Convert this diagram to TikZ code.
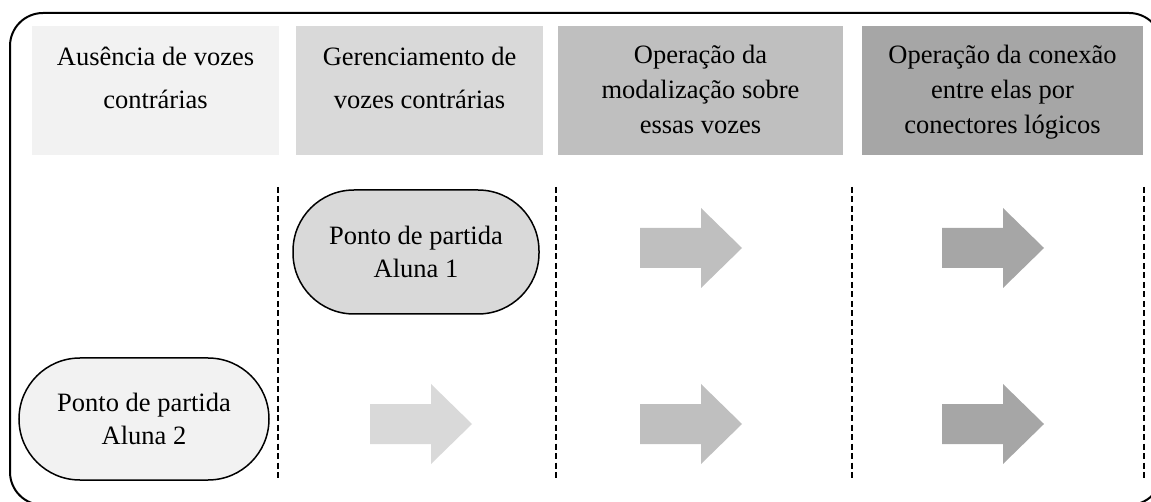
\documentclass[tikz,border=0pt]{standalone}
\usepackage{fontspec}
\setmainfont{Liberation Serif}
\definecolor{cA}{HTML}{F2F2F2}
\definecolor{cB}{HTML}{D9D9D9}
\definecolor{cC}{HTML}{BFBFBF}
\definecolor{cD}{HTML}{A6A6A6}
\begin{document}
\begin{tikzpicture}[x=1pt,y=-1pt,
  hdr/.style={inner sep=0pt, outer sep=0pt, minimum height=129pt},
  hdrtwo/.style={anchor=north, align=center, inner sep=0pt, font=\fontsize{26.5pt}{43pt}\selectfont},
  hdrthree/.style={anchor=north, align=center, inner sep=0pt, font=\fontsize{26.5pt}{35pt}\selectfont},
  pill/.style={draw=black, line width=1.5pt, rounded corners=61pt, inner sep=0pt, align=center, font=\fontsize{26.5pt}{33pt}\selectfont},
  sep/.style={dash pattern=on 6pt off 3.5pt, line width=1.6pt},
  frame/.style={line width=2pt, rounded corners=33pt},
  barrow/.pic={\fill[pic actions] (-51,-20) -- (10,-20) -- (10,-40) -- (51,0) -- (10,40) -- (10,20) -- (-51,20) -- cycle;}
]
\useasboundingbox (0,0) rectangle (1151,502);
\draw[frame] (10,13) rectangle (1162,505);

% header boxes
\node[hdr, fill=cA, minimum width=247pt] (h1) at (155.5,90.5) {};
\node[hdr, fill=cB, minimum width=247pt] (h2) at (419.5,90.5) {};
\node[hdr, fill=cC, minimum width=285pt] (h3) at (700.5,91) {};
\node[hdr, fill=cD, minimum width=281pt] (h4) at (1002.5,91) {};

\node[hdrtwo] (t1) at (155.5,47) {Ausência de vozes\\contrárias};
\node[hdrtwo] (t2) at (419.5,47) {Gerenciamento de\\vozes contrárias};
\node[hdrthree] (t3) at (700.5,45) {Operação da\\modalização sobre\\essas vozes};
\node[hdrthree] (t4) at (1002.5,45) {Operação da conexão\\entre elas por\\conectores lógicos};

% separators
\coordinate (s1a) at (278,187); \coordinate (s1b) at (278,478);
\coordinate (s2a) at (556,187); \coordinate (s2b) at (556,478);
\coordinate (s3a) at (852,187); \coordinate (s3b) at (852,478);
\coordinate (s4a) at (1144,187); \coordinate (s4b) at (1144,478);
\draw[sep] (s1a) -- (s1b);
\draw[sep] (s2a) -- (s2b);
\draw[sep] (s3a) -- (s3b);
\draw[sep] (s4a) -- (s4b);

% arrows
\pic[fill=cC] at (691,248) {barrow};
\pic[fill=cD] at (993,248) {barrow};
\pic[fill=cB] at (421,424) {barrow};
\pic[fill=cC] at (691,424) {barrow};
\pic[fill=cD] at (993,424) {barrow};

% pills
\node[pill, fill=cB, minimum width=246pt, minimum height=124pt] (p1) at (416,252) {Ponto de partida\\Aluna 1};
\node[pill, fill=cA, minimum width=250pt, minimum height=122pt] (p2) at (144,419) {Ponto de partida\\Aluna 2};
\end{tikzpicture}
\end{document}
